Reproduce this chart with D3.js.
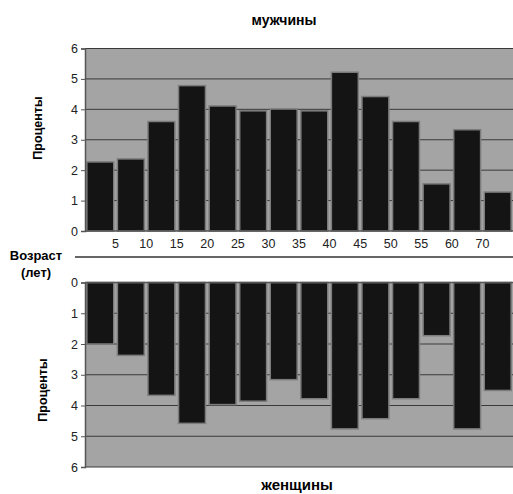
<!DOCTYPE html>
<html><head><meta charset="utf-8">
<script src="https://cdn.jsdelivr.net/npm/d3@7/dist/d3.min.js"></script>
<style>body{margin:0;background:#fff}svg{display:block}</style>
</head><body>
<svg id="c" width="513" height="494"></svg>
<script>
const categories = ["0–5","5–10","10–15","15–20","20–25","25–30","30–35","35–40","40–45","45–50","50–55","55–60","60–70","70+"];
const tickLabels = ["5","10","15","20","25","30","35","40","45","50","55","60","70"];
const men   = [2.27,2.37,3.6,4.78,4.11,3.95,4.01,3.95,5.22,4.42,3.6,1.55,3.33,1.28];
const women = [2.0,2.37,3.67,4.58,3.97,3.86,3.16,3.78,4.76,4.43,3.78,1.73,4.76,3.51];
const yTicks = [0,1,2,3,4,5,6];

const svg = d3.select("#c");
const font = "Liberation Sans, Arial, sans-serif";
const x = d3.scaleBand().domain(categories).range([85,513]).paddingInner(0.12).paddingOuter(0.06);
const yTop = d3.scaleLinear().domain([0,6]).range([231,48.5]);
const yBot = d3.scaleLinear().domain([0,6]).range([282.5,467]);

function panel(y, data, down){
  const g = svg.append("g");
  const [r0,r1] = y.range();
  g.append("rect").attr("x",85).attr("y",Math.min(r0,r1)).attr("width",428).attr("height",Math.abs(r1-r0)).attr("fill","#a4a4a4");
  g.selectAll("line.grid").data(yTicks.slice(1)).join("line")
    .attr("x1",85).attr("x2",513).attr("y1",d=>y(d)).attr("y2",d=>y(d))
    .attr("stroke","#3a3a3a").attr("stroke-width",1);
  g.selectAll("rect.bar").data(data).join("rect")
    .attr("x",(d,i)=>x(categories[i]))
    .attr("width",x.bandwidth())
    .attr("y",d=>down? y(0): y(d))
    .attr("height",d=>Math.abs(y(d)-y(0)))
    .attr("fill","#141414").attr("stroke","#7c7c7c").attr("stroke-width",1.5);
  const ax = g.append("g").attr("transform","translate(85,0)").call(d3.axisLeft(y).tickValues(yTicks).tickSize(4).tickFormat(d3.format("d")));
  ax.select(".domain").attr("stroke","#555").attr("stroke-width",1.5);
  ax.selectAll(".tick line").attr("stroke","#555");
  ax.selectAll("text").attr("font-family",font).attr("font-size",12.5).attr("fill","#222").attr("x",-7);
  g.append("line").attr("x1",85).attr("x2",513).attr("y1",y(0)).attr("y2",y(0)).attr("stroke","#555").attr("stroke-width",1.5);
}
panel(yTop, men, false);
panel(yBot, women, true);

const gapShift = x.step()*x.paddingInner()/2;
svg.append("g").selectAll("text").data(tickLabels).join("text")
  .attr("x",(d,i)=>x(categories[i+1]) - gapShift)
  .attr("y",248)
  .attr("text-anchor","middle")
  .attr("font-family",font).attr("font-size",12.5).attr("fill","#222")
  .text(d=>d);

svg.append("line").attr("x1",75).attr("x2",513).attr("y1",257).attr("y2",257).attr("stroke","#333").attr("stroke-width",1.5);

svg.append("text").attr("x",284).attr("y",25).attr("text-anchor","middle").attr("font-family",font).attr("font-weight","bold").attr("font-size",14).text("мужчины");
svg.append("text").attr("x",297).attr("y",490).attr("text-anchor","middle").attr("font-family",font).attr("font-weight","bold").attr("font-size",15).text("женщины");
svg.append("text").attr("x",36).attr("y",260).attr("text-anchor","middle").attr("font-family",font).attr("font-weight","bold").attr("font-size",13).text("Возраст");
svg.append("text").attr("x",36).attr("y",277).attr("text-anchor","middle").attr("font-family",font).attr("font-weight","bold").attr("font-size",13).text("(лет)");
svg.append("text").attr("transform","translate(42,128) rotate(-90)").attr("text-anchor","middle").attr("font-family",font).attr("font-weight","bold").attr("font-size",12.5).text("Проценты");
svg.append("text").attr("transform","translate(47,390) rotate(-90)").attr("text-anchor","middle").attr("font-family",font).attr("font-weight","bold").attr("font-size",12.5).text("Проценты");
</script>
</body></html>
